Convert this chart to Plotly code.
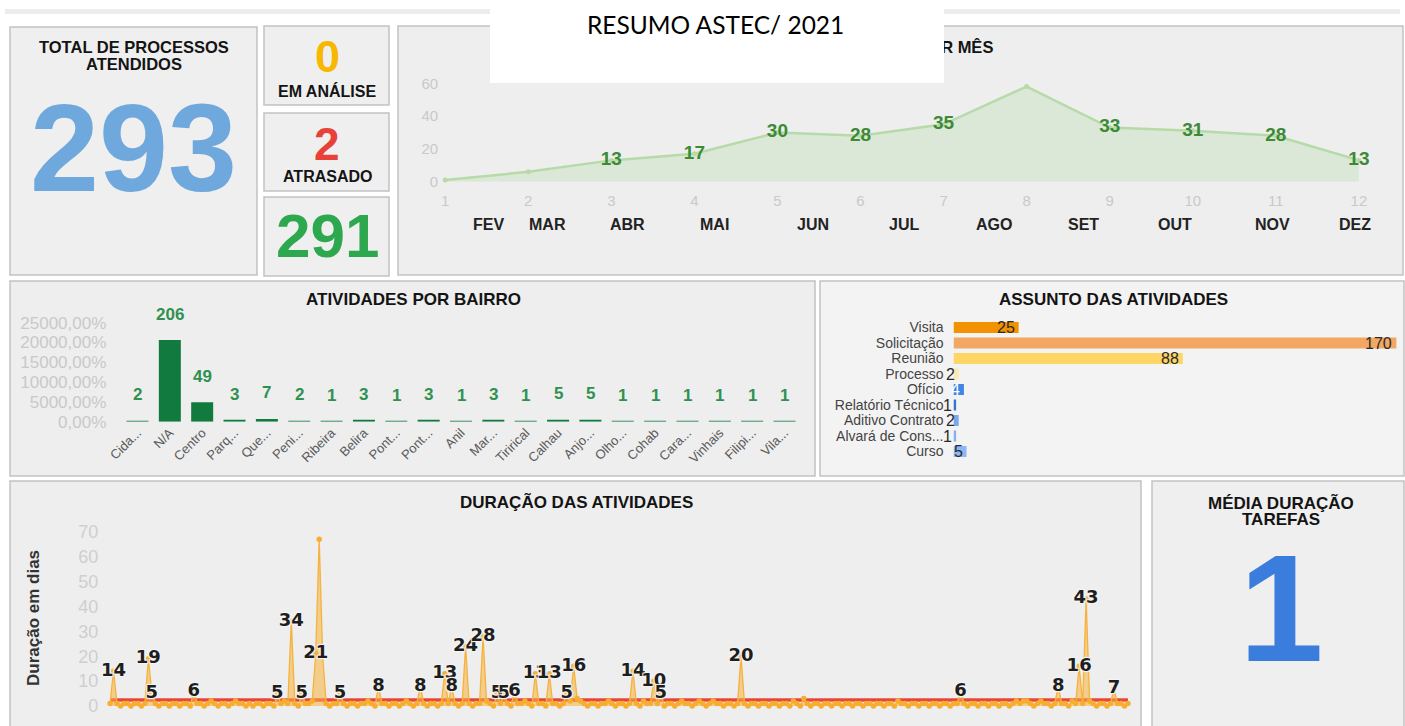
import plotly.graph_objects as go

W, H = 1405, 726


def px(x):
    return x / W


def py(y):
    return 1 - y / H


# ---------------- DATA ----------------
total_processos = 293
em_analise = 0
atrasado = 2
concluidos = 291
media_duracao_tarefas = 1

meses_num = list(range(1, 13))
atividades_mes = [1, 6, 13, 17, 30, 28, 35, 58, 33, 31, 28, 13]
meses_rotulo_oculto = [1, 2, 8]
meses_nomes = ["FEV", "MAR", "ABR", "MAI", "JUN", "JUL", "AGO", "SET", "OUT", "NOV", "DEZ"]

bairros = ["Cida...", "N/A", "Centro", "Parq...", "Que...", "Peni...", "Ribeira", "Belira",
           "Pont...", "Pont...", "Anil", "Mar...", "Tirirical", "Calhau", "Anjo...", "Olho...",
           "Cohab", "Cara...", "Vinhais", "Filipi...", "Vila..."]
bairros_qtd = [2, 206, 49, 3, 7, 2, 1, 3, 1, 3, 1, 3, 1, 5, 5, 1, 1, 1, 1, 1, 1]

assuntos = ["Visita", "Solicitação", "Reunião", "Processo", "Ofício", "Relatório Técnico",
            "Aditivo Contrato", "Alvará de Cons...", "Curso"]
assuntos_qtd = [25, 170, 88, 2, 4, 1, 2, 1, 5]
assuntos_cores = ["#f39200", "#f2a762", "#fdd666", "#fde9b4", "#3f86e6", "#3474d6",
                  "#7aa8ea", "#86b0ed", "#8db7f0"]
assuntos_cor_texto = ["#2a2a2a", "#2a2a2a", "#2a2a2a", "#2a2a2a", "#ffffff", "#2a2a2a",
                      "#2a2a2a", "#2a2a2a", "#2a2a2a"]

duracao = [
    1, 14, 1, 0, 1, 1, 0, 1, 1, 0, 1, 19, 5, 1, 0, 1, 1, 0, 1, 1,
    0, 1, 1, 0, 6, 1, 1, 0, 1, 2, 1, 0, 1, 1, 0, 1, 2, 1, 1, 0,
    1, 0, 1, 1, 0, 1, 1, 0, 5, 1, 2, 1, 34, 1, 0, 5, 1, 1, 2, 21,
    67, 20, 1, 0, 1, 1, 5, 1, 0, 1, 1, 0, 1, 1, 2, 1, 0, 8, 1, 1,
    0, 1, 1, 0, 1, 2, 1, 0, 1, 8, 1, 0, 1, 1, 0, 1, 13, 1, 8, 1,
    0, 1, 24, 1, 0, 1, 1, 28, 2, 1, 0, 5, 1, 5, 1, 0, 6, 1, 1, 2,
    1, 0, 13, 1, 1, 0, 13, 1, 1, 0, 1, 5, 2, 16, 3, 2, 1, 0, 1, 1,
    0, 1, 1, 2, 1, 0, 1, 1, 0, 1, 14, 1, 0, 2, 1, 1, 10, 1, 5, 0,
    1, 1, 0, 1, 2, 1, 1, 0, 1, 2, 1, 0, 1, 2, 1, 1, 0, 1, 1, 0,
    1, 20, 1, 0, 1, 1, 0, 1, 1, 0, 1, 1, 0, 1, 1, 0, 2, 1, 0, 3,
    1, 0, 1, 1, 0, 1, 1, 0, 1, 1, 0, 1, 1, 0, 1, 1, 0, 1, 1, 0,
    1, 1, 0, 1, 1, 0, 2, 1, 1, 0, 1, 1, 0, 1, 1, 0, 1, 1, 0, 1,
    1, 0, 1, 1, 6, 1, 0, 1, 1, 0, 1, 1, 0, 1, 1, 0, 1, 1, 0, 1,
    2, 1, 2, 2, 1, 0, 1, 2, 1, 1, 0, 1, 8, 1, 1, 0, 2, 1, 16, 1,
    43, 2, 1, 0, 1, 1, 0, 1, 7, 1, 1, 0, 1,
]
duracao_sem_rotulo = [60, 61]

# ---------------- FIGURE ----------------
fig = go.Figure()
BOLD = "Liberation Sans, Arial, sans-serif"
GRAY_TICK = "#c9c9c9"

# Line chart: atividades por mês
mes_txt = ["" if m in meses_rotulo_oculto else str(v) for m, v in zip(meses_num, atividades_mes)]
fig.add_trace(go.Scatter(
    x=meses_num, y=atividades_mes, mode="lines+markers+text",
    line=dict(color="#b6dba8", width=2.5), marker=dict(size=5, color="#b6dba8"),
    fill="tozeroy", fillcolor="rgba(185,220,172,0.35)",
    text=mes_txt, textposition="middle center",
    textfont=dict(family=BOLD, size=19, color="#3d8a35", weight="bold"),
    cliponaxis=False, xaxis="x", yaxis="y", showlegend=False, hoverinfo="skip"))

# Bar chart: atividades por bairro
bx = list(range(len(bairros)))
fig.add_trace(go.Bar(
    x=bx, y=bairros_qtd, width=0.68, marker=dict(color="#117a3e", line_width=0),
    xaxis="x2", yaxis="y2", showlegend=False, hoverinfo="skip"))

# Horizontal bars: assunto das atividades
fig.add_trace(go.Bar(
    y=assuntos, x=assuntos_qtd, orientation="h", width=0.7,
    marker=dict(color=assuntos_cores, line_width=0),
    xaxis="x3", yaxis="y3", showlegend=False, hoverinfo="skip"))

# Duração das atividades
idx = list(range(len(duracao)))
duracao_media = sum(duracao) / len(duracao)
fig.add_trace(go.Scatter(
    x=[idx[0], idx[-1]], y=[duracao_media, duracao_media], mode="lines",
    line=dict(color="#e8463c", width=3.5), xaxis="x4", yaxis="y4",
    showlegend=False, hoverinfo="skip"))
dur_txt = ["" if (v < 5 or i in duracao_sem_rotulo) else str(v) for i, v in zip(idx, duracao)]
halo = "1px 1px 1px #f4f4f4, -1px -1px 1px #f4f4f4, 1px -1px 1px #f4f4f4, -1px 1px 1px #f4f4f4"
fig.add_trace(go.Scatter(
    x=idx, y=duracao, mode="lines+markers+text",
    line=dict(color="#f6b23c", width=1.3), marker=dict(size=5.5, color="#f7ae30"),
    fill="tozeroy", fillcolor="rgba(246,178,60,0.55)",
    text=dur_txt, textposition="middle center",
    textfont=dict(family="DejaVu Sans, sans-serif", size=18, color="#1e1e1e",
                  weight="bold", shadow=halo),
    cliponaxis=False, xaxis="x4", yaxis="y4", showlegend=False, hoverinfo="skip"))

# ---------------- SHAPES (panels) ----------------
shapes = [dict(type="rect", xref="paper", yref="paper", x0=px(5), x1=px(1400),
               y0=py(14), y1=py(9), fillcolor="#ececec", line_width=0, layer="below")]
panels = [
    (10, 27, 257, 275, "#efefef"),
    (264, 26, 389, 105, "#efefef"),
    (264, 113, 389, 191, "#efefef"),
    (264, 197, 389, 276, "#efefef"),
    (398, 26, 1403, 275, "#eeeeee"),
    (10, 281, 815, 476, "#eeeeee"),
    (820, 281, 1404, 476, "#f3f3f3"),
    (10, 481, 1141, 732, "#eeeeee"),
    (1152, 481, 1404, 732, "#efefef"),
]
for x0, y0, x1, y1, c in panels:
    shapes.append(dict(type="rect", xref="paper", yref="paper",
                       x0=px(x0), x1=px(x1), y0=py(y1), y1=py(y0),
                       fillcolor=c, line=dict(color="#c2c2c2", width=1.5), layer="below"))

# ---------------- ANNOTATIONS ----------------
ann = []


def txt(x, y, text, size, color="#141414", bold=True, family=BOLD, **kw):
    ann.append(dict(xref="paper", yref="paper", x=px(x), y=py(y), text=text,
                    showarrow=False, xanchor=kw.pop("xanchor", "center"), yanchor="middle",
                    font=dict(family=family, size=size, color=color,
                              weight="bold" if bold else "normal"), **kw))


txt(134, 47, "TOTAL DE PROCESSOS", 16.5)
txt(134, 64, "ATENDIDOS", 16.5)
txt(133, 148, str(total_processos), 124, "#6fa8dc")
txt(327, 57, str(em_analise), 45, "#f8b800")
txt(327, 91, "EM ANÁLISE", 16)
txt(327, 144, str(atrasado), 46, "#e8413a")
txt(327, 177, "ATRASADO", 16)
txt(327, 236, str(concluidos), 62, "#2ea84f")
txt(995, 47, "ATIVIDADES POR MÊS", 16.5, xanchor="right")
txt(413, 299, "ATIVIDADES POR BAIRRO", 17)
txt(1113, 299, "ASSUNTO DAS ATIVIDADES", 17)
txt(576, 502, "DURAÇÃO DAS ATIVIDADES", 17)
txt(1281, 503, "MÉDIA DURAÇÃO", 17)
txt(1281, 519, "TAREFAS", 17)
txt(1281, 608, str(media_duracao_tarefas), 152, "#3b7ddd")
txt(33, 618, "Duração em dias", 17, "#333333", textangle=-90)

# month name row under the line chart
mes_nome_x = [1.52, 2.23, 3.19, 4.24, 5.43, 6.52, 7.61, 8.68, 9.78, 10.96, 11.95]
for nome, xm in zip(meses_nomes, mes_nome_x):
    ann.append(dict(xref="x", yref="paper", x=xm, y=py(224), text=nome, showarrow=False,
                    yanchor="middle", font=dict(family=BOLD, size=16, color="#222222",
                                                weight="bold")))

# bar labels (bairro)
for i, v in zip(bx, bairros_qtd):
    ann.append(dict(xref="x2", yref="y2", x=i, y=v, yshift=26, text=str(v), showarrow=False,
                    yanchor="middle", font=dict(family=BOLD, size=17, color="#2e9150",
                                                weight="bold")))

# bar labels (assunto)
for cat, v, c in zip(assuntos, assuntos_qtd, assuntos_cor_texto):
    ann.append(dict(xref="x3", yref="y3", x=v, y=cat, xshift=-2, text=str(v), showarrow=False,
                    xanchor="right", yanchor="middle",
                    font=dict(family=BOLD, size=16, color=c)))

# white title box covering top
ann.append(dict(xref="paper", yref="paper", x=px(716.8), y=py(41.5), text=" ",
                showarrow=False, width=454, height=83, bgcolor="#ffffff",
                borderpad=0, borderwidth=0, xanchor="center", yanchor="middle"))
txt(716, 24, "RESUMO ASTEC/ 2021", 24.5, "#000000", bold=False,
    family="Lato, Carlito, sans-serif")

# ---------------- LAYOUT ----------------
noline = dict(showgrid=False, zeroline=False, showline=False, ticks="")
fig.update_layout(
    width=W, height=H, margin=dict(l=0, r=0, t=0, b=0, pad=0, autoexpand=False),
    paper_bgcolor="#ffffff", plot_bgcolor="rgba(0,0,0,0)",
    separators=",.", bargap=0.3,
    shapes=shapes, annotations=ann,
    xaxis=dict(domain=[px(445.2), px(1358.9)], range=[1, 12], tickvals=meses_num,
               tickfont=dict(family=BOLD, size=15, color=GRAY_TICK), ticklabelstandoff=8,
               anchor="y", automargin=False, **noline),
    yaxis=dict(domain=[py(181.7), py(80)], range=[0, 62], tickvals=[0, 20, 40, 60],
               tickfont=dict(family=BOLD, size=15, color=GRAY_TICK), ticklabelstandoff=6,
               anchor="x", automargin=False, **noline),
    xaxis2=dict(domain=[px(121.3), px(800.7)], range=[-0.5, 20.5], tickvals=bx,
                ticktext=bairros, tickangle=-45, automargin=False,
                tickfont=dict(family=BOLD, size=13, color="#5a5a5a"), anchor="y2", **noline),
    yaxis2=dict(domain=[py(421.7), py(316.7)], range=[0, 265],
                tickvals=[0, 50, 100, 150, 200, 250], tickformat=".2%",
                tickfont=dict(family=BOLD, size=17, color=GRAY_TICK), ticklabelstandoff=14,
                anchor="x2", automargin=False, **noline),
    xaxis3=dict(domain=[px(953.5), px(1399)], range=[0, 171], visible=False, anchor="y3"),
    yaxis3=dict(domain=[py(462), py(317)], type="category", categoryorder="array",
                categoryarray=assuntos, autorange="reversed",
                tickmode="array", tickvals=assuntos, ticktext=assuntos,
                tickfont=dict(family=BOLD, size=14, color="#444444"), ticklabelstandoff=9,
                anchor="x3", automargin=False, **noline),
    xaxis4=dict(domain=[px(108.3), px(1129.7)], range=[-0.5, 292.5], visible=False,
                anchor="y4"),
    yaxis4=dict(domain=[py(706), py(526.7)], range=[0, 72], tickvals=list(range(0, 71, 10)),
                tickfont=dict(family=BOLD, size=18, color="#cfcfcf"), ticklabelstandoff=9,
                anchor="x4", automargin=False, **noline),
)

fig.write_html("out.html", config={"displayModeBar": False},
               post_script="document.body.style.margin='0px';")
